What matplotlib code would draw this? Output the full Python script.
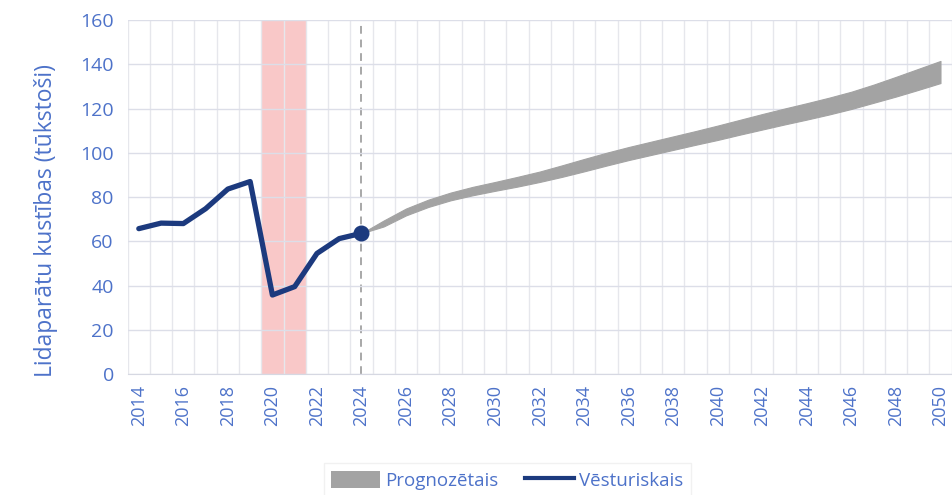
import numpy as np
import matplotlib.pyplot as plt
from matplotlib.patches import Patch
from matplotlib.lines import Line2D

plt.rcParams['font.family'] = ['Open Sans', 'DejaVu Sans']

# historical movements (thousands)
hist_years = list(range(2014, 2025))
hist_values = [65.7, 68.2, 68.0, 74.7, 83.6, 87.0, 35.7, 39.5, 54.5, 61.2, 63.6]

# forecast range
fc_years = list(range(2024, 2051))
fc_upper = [63.6, 69.4, 74.8, 78.8, 82.0, 84.6, 86.8, 89.1, 91.5, 94.3, 97.2,
            100.0, 102.6, 105.0, 107.4, 109.8, 112.3, 114.9, 117.5, 120.0, 122.4,
            124.9, 127.6, 130.8, 134.3, 137.9, 141.5]
fc_lower = [63.6, 66.7, 71.7, 75.5, 78.5, 80.8, 82.8, 84.7, 86.8, 89.1, 91.6,
            94.2, 96.7, 99.0, 101.3, 103.6, 105.8, 108.2, 110.5, 112.8, 115.0,
            117.3, 119.8, 122.6, 125.4, 128.4, 131.5]

covid_span = (2019.5, 2021.5)
last_year = 2024

blue_text = '#4d72c9'
navy = '#1c3a7e'
grey_band = '#a3a3a3'

fig = plt.figure(figsize=(9.52, 4.95), dpi=100)
ax = fig.add_axes([0.1341, 0.2444, 0.8655, 0.7152])

ax.axvspan(*covid_span, color='#f9c8c8', zorder=1, lw=0)
ax.fill_between(fc_years, fc_lower, fc_upper, color=grey_band, lw=0.8,
                edgecolor=grey_band, zorder=3)
ax.axvline(last_year, color='#a8a8a8', ls=(0, (4, 3)), lw=1.4, zorder=2)
ax.plot(hist_years, hist_values, color=navy, lw=3.8, zorder=4,
        solid_joinstyle='round', solid_capstyle='round')
ax.plot([hist_years[-1]], [hist_values[-1]], 'o', color=navy, ms=10.5, zorder=5)

ax.set_xlim(2013.5, 2050.5)
ax.set_ylim(0, 160)

# grid sits between the yearly categories
ax.set_xticks(np.arange(2013.5, 2051, 1), minor=True)
ax.set_xticks(range(2014, 2051, 2))
ax.set_yticks(range(0, 161, 20))
ax.grid(True, which='minor', axis='x', color='#e6e7ec', lw=1, zorder=2.5)
ax.grid(True, which='major', axis='y', color='#dcdee8', lw=1, zorder=2.5)
ax.set_axisbelow(False)

for s in ['top', 'right', 'left']:
    ax.spines[s].set_visible(False)
ax.spines['bottom'].set_color('#d6d8e2')

ax.tick_params(axis='x', which='both', length=0, labelsize=13,
               labelcolor=blue_text, rotation=90, pad=8)
ax.tick_params(axis='y', length=0, labelsize=14, labelcolor=blue_text, pad=10)

ax.set_ylabel('Lidaparātu kustības (tūkstoši)', color=blue_text, fontsize=16.5)
ax.yaxis.set_label_coords(-0.084, 0.435)

handles = [Patch(facecolor=grey_band, edgecolor='none'),
           Line2D([], [], color=navy, lw=3)]
leg = fig.legend(handles, ['Prognozētais', 'Vēsturiskais'], loc='center',
                 bbox_to_anchor=(0.533, 0.03), ncol=2, frameon=True,
                 fontsize=13.5, handlelength=2.6, handleheight=1.0,
                 columnspacing=1.4, handletextpad=0.3, fancybox=False,
                 borderpad=0.4)
leg.get_frame().set_edgecolor('#eeeeee')
for t in leg.get_texts():
    t.set_color(blue_text)

fig.savefig('out.png', dpi=100)
